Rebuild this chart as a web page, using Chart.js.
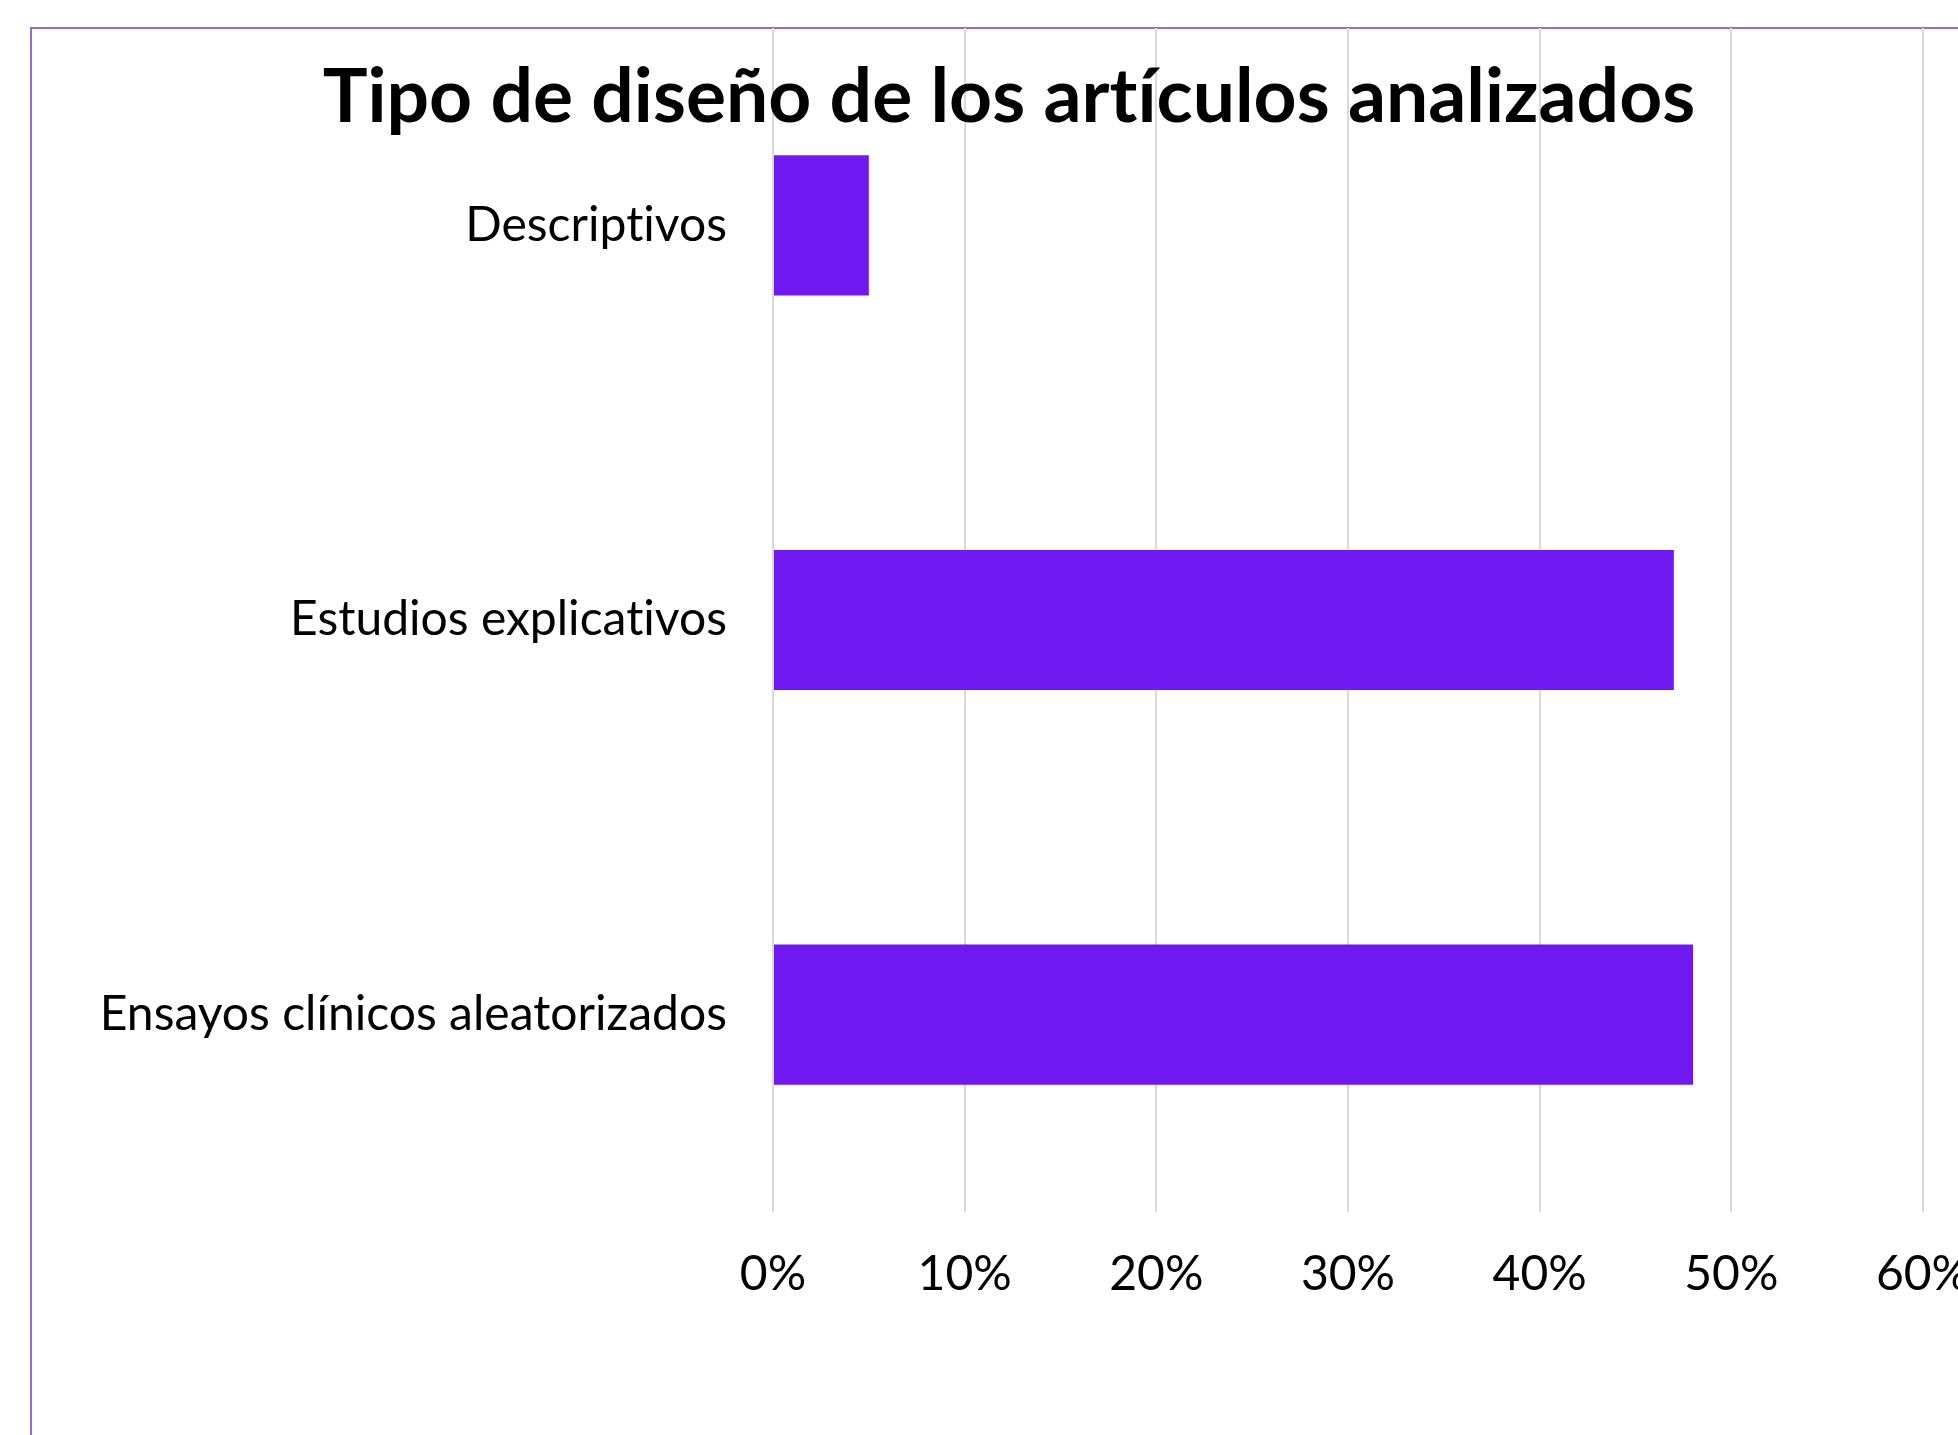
<!DOCTYPE html>
<html>
<head>
<meta charset="utf-8">
<script src="https://cdn.jsdelivr.net/npm/chart.js@4"></script>
<style>
  html, body { margin: 0; padding: 0; background: #fff; overflow: hidden; width: 1958px; height: 1435px; }
  #frame { position: absolute; left: 30px; top: 27px; width: 2000px; height: 1500px; border: 2px solid #9b6bcc; box-sizing: border-box; }
  #wrap { position: absolute; left: 0; top: 0; width: 2000px; height: 1435px; }
</style>
</head>
<body>
<div id="frame"></div>
<div id="wrap"><canvas id="myChart" width="2000" height="1435"></canvas></div>
<script>
const chartTitle = "Tipo de diseño de los artículos analizados";
const categories = ["Descriptivos", "Estudios explicativos", "Ensayos clínicos aleatorizados"];
const percentages = [5, 47, 48];
const xTicks = { min: 0, max: 60, step: 10 };

// Lato turns "ti" into a ligature, the original doesn't
const noLigatures = {
  id: "noLigatures",
  beforeDraw(chart) {
    chart.ctx.textRendering = "optimizeSpeed";
    chart.ctx.fontVariantLigatures = "none";
    chart.ctx.letterSpacing = "0.01px";
  },
};

// title sits inside the plot area, over the grid lines
const titleInside = {
  id: "titleInside",
  afterDraw(chart) {
    const ctx = chart.ctx;
    ctx.save();
    ctx.font = "bold 75px Lato";
    ctx.fillStyle = "#000";
    ctx.textAlign = "center";
    ctx.textBaseline = "alphabetic";
    ctx.fillText(chartTitle, 1009, 122);
    ctx.restore();
  },
};

const data = {
  labels: categories,
  datasets: [
    {
      label: "Porcentaje",
      backgroundColor: "#6f19f0",
      data: percentages,
      categoryPercentage: 1,
      barPercentage: 0.355,
      borderWidth: 0,
    },
  ],
};

const config = {
  type: "bar",
  data: data,
  plugins: [noLigatures, titleInside],
  options: {
    indexAxis: "y",
    responsive: false,
    maintainAspectRatio: false,
    animation: false,
    layout: {
      padding: { top: 28, right: 77, left: 0, bottom: 0 },
    },
    scales: {
      x: {
        min: xTicks.min,
        max: xTicks.max,
        grid: {
          color: "#d9d9d9",
          lineWidth: 2,
          drawTicks: false,
        },
        border: { display: false },
        ticks: {
          stepSize: xTicks.step,
          padding: 34,
          color: "#000",
          font: { family: "Lato", size: 48 },
          callback: (value) => value + "%",
        },
        afterFit: (scale) => {
          scale.height = 223;
          scale.paddingLeft = 0;
          scale.paddingRight = 0;
        },
      },
      y: {
        grid: { display: false, drawTicks: false },
        border: { display: false },
        ticks: {
          padding: 46,
          color: "#000",
          font: { family: "Lato", size: 48 },
        },
        afterFit: (scale) => {
          scale.width = 773;
          scale.paddingTop = 0;
          scale.paddingBottom = 0;
        },
      },
    },
    plugins: {
      legend: { display: false },
      title: { display: false },
      tooltip: { enabled: false },
    },
  },
};

const ctx = document.getElementById("myChart").getContext("2d");
new Chart(ctx, config);
</script>
</body>
</html>
